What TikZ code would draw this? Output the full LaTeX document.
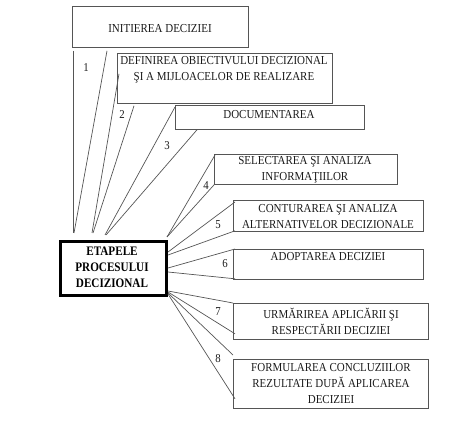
\documentclass[tikz,border=0pt]{standalone}
\usepackage{fontspec}
\setmainfont[FakeStretch=0.9]{Liberation Serif}
\newfontfamily\cboldfont[FakeStretch=0.86]{Liberation Serif}
\usetikzlibrary{calc}
\definecolor{boxgray}{HTML}{555555}
\definecolor{linegray}{HTML}{555555}
\definecolor{txtcol}{HTML}{1A1A1A}
\tikzset{
  stagebox/.style={draw=boxgray, line width=0.8pt, rectangle, inner sep=0pt, anchor=north west},
  centerbox/.style={draw=black, line width=3pt, rectangle, inner sep=0pt, anchor=north west},
  txt/.style={text=txtcol, font=\fontsize{12.2}{16}\selectfont, align=center, inner sep=0pt},
  btxt/.style={text=black, font=\cboldfont\fontsize{13}{16}\selectfont\bfseries, align=center, inner sep=0pt},
  num/.style={text=txtcol, font=\fontsize{12}{13}\selectfont, inner sep=0pt},
  conn/.style={draw=linegray, line width=0.7pt}
}
\begin{document}
\begin{tikzpicture}[x=1pt,y=-1pt]
\useasboundingbox (0,0) rectangle (474,427);
% boxes
\node[stagebox, minimum width=176pt, minimum height=41pt] (b1) at (72,6) {};
\node[stagebox, minimum width=215pt, minimum height=50pt] (b2) at (117,53) {};
\node[stagebox, minimum width=189pt, minimum height=24pt] (b3) at (175,105) {};
\node[stagebox, minimum width=183pt, minimum height=30pt] (b4) at (214,154) {};
\node[stagebox, minimum width=190pt, minimum height=31pt] (b5) at (233,200) {};
\node[stagebox, minimum width=190pt, minimum height=30pt] (b6) at (233,249) {};
\node[stagebox, minimum width=195pt, minimum height=36pt] (b7) at (233,303) {};
\node[stagebox, minimum width=195pt, minimum height=49pt] (b8) at (233,359) {};
\node[centerbox, minimum width=106pt, minimum height=54pt] (c) at (59,240) {};
% texts
\node[txt] (t1) at (160,29) {INITIEREA DECIZIEI};
\node[txt] (t2) at (224,70) {DEFINIREA OBIECTIVULUI DECIZIONAL\\ŞI A MIJLOACELOR DE REALIZARE};
\node[txt] (t3) at (269,115) {DOCUMENTAREA};
\node[txt] (t4) at (305,170) {SELECTAREA ŞI ANALIZA\\INFORMAŢIILOR};
\node[txt] (t5) at (328,217) {CONTURAREA ŞI ANALIZA\\ALTERNATIVELOR DECIZIONALE};
\node[txt] (t6) at (328,257) {ADOPTAREA DECIZIEI};
\node[txt] (t7) at (331,321) {URMĂRIREA APLICĂRII ŞI\\RESPECTĂRII DECIZIEI};
\node[txt] (t8) at (331,384) {FORMULAREA CONCLUZIILOR\\REZULTATE DUPĂ APLICAREA\\DECIZIEI};
\node[btxt] (tc) at (112,267) {ETAPELE\\PROCESULUI\\DECIZIONAL};
% numbers
\node[num] (n1) at (86,68) {1};
\node[num] (n2) at (122,115) {2};
\node[num] (n3) at (167,146) {3};
\node[num] (n4) at (206,186) {4};
\node[num] (n5) at (218,225) {5};
\node[num] (n6) at (225,264) {6};
\node[num] (n7) at (218,312) {7};
\node[num] (n8) at (218,359) {8};
% connectors
\draw[conn] ($(b1.south west)+(1,3)$) -- ($(c.north west)+(14,-7)$);
\draw[conn] ($(b1.south west)+(35,3)$) -- ($(c.north west)+(15,-7)$);
\draw[conn] ($(b2.south west)+(2,-30)$) -- ($(c.north west)+(33,-7)$);
\draw[conn] ($(b2.south west)+(17,2)$) -- ($(c.north west)+(34,-7)$);
\draw[conn] ($(b3.north west)+(0,2)$) -- ($(c.north west)+(46,-5)$);
\draw[conn] ($(b3.south west)+(22,0)$) -- ($(c.north west)+(47,-5)$);
\draw[conn] ($(b4.north west)+(1,1)$) -- ($(c.north east)+(-1,-3)$);
\draw[conn] ($(b4.south west)+(1,-1)$) -- ($(c.north east)+(-1,-3)$);
\draw[conn] ($(b5.north west)+(2,2)$) -- ($(c.north east)+(0,12)$);
\draw[conn] ($(b5.south west)+(2,-1)$) -- ($(c.north east)+(0,15)$);
\draw[conn] ($(b6.north west)+(2,0)$) -- ($(c.north east)+(0,28)$);
\draw[conn] ($(b6.south west)+(2,-1)$) -- ($(c.north east)+(0,32)$);
\draw[conn] (b7.north west) -- ($(c.south east)+(0,-6)$);
\draw[conn] ($(b7.south west)+(2,-6)$) -- ($(c.south east)+(0,-5)$);
\draw[conn] ($(b8.north west)+(0,-4)$) -- ($(c.south east)+(0,-4)$);
\draw[conn] ($(b8.south west)+(2,-10)$) -- ($(c.south east)+(0,-3)$);
\end{tikzpicture}
\end{document}
